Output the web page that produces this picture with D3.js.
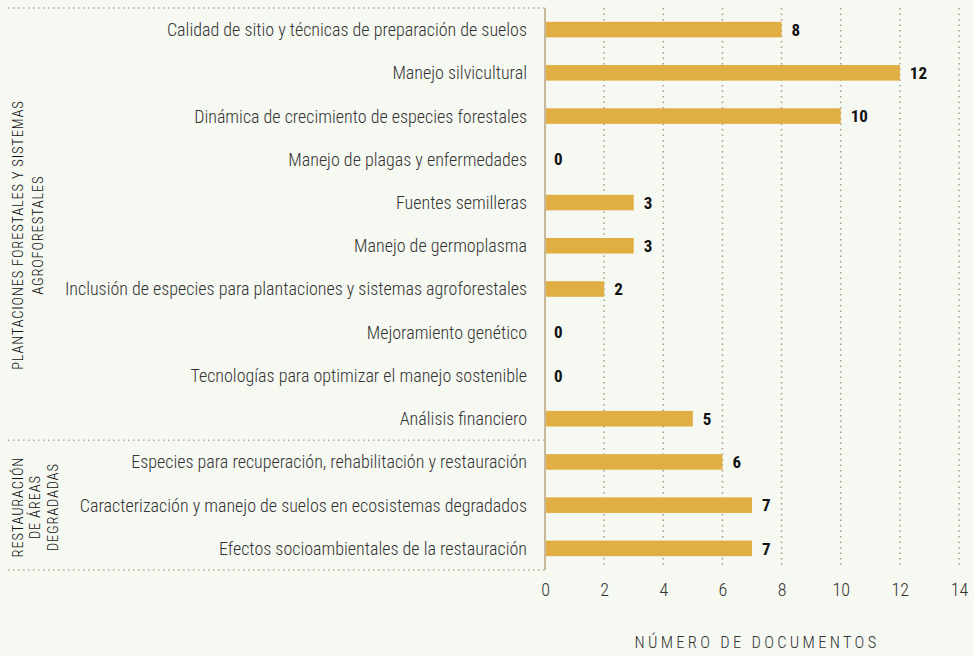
<!DOCTYPE html>
<html>
<head>
<meta charset="utf-8">
<script src="https://cdn.jsdelivr.net/npm/d3@7"></script>
<style>
  body { margin: 0; background: #f6f8f2; }
  svg text { font-family: "Roboto Condensed", "Liberation Sans Narrow", "Roboto", sans-serif; }
</style>
</head>
<body>
<div id="chart"></div>
<script>
// categories, top to bottom
var categories = [
  "Calidad de sitio y técnicas de preparación de suelos",
  "Manejo silvicultural",
  "Dinámica de crecimiento de especies forestales",
  "Manejo de plagas y enfermedades",
  "Fuentes semilleras",
  "Manejo de germoplasma",
  "Inclusión de especies para plantaciones y sistemas agroforestales",
  "Mejoramiento genético",
  "Tecnologías para optimizar el manejo sostenible",
  "Análisis financiero",
  "Especies para recuperación, rehabilitación y restauración",
  "Caracterización y manejo de suelos en ecosistemas degradados",
  "Efectos socioambientales de la restauración"
];
var documentos = [8, 12, 10, 0, 3, 3, 2, 0, 0, 5, 6, 7, 7];
var groupLines = [
  ["PLANTACIONES FORESTALES Y SISTEMAS", "AGROFORESTALES"],
  ["RESTAURACIÓN", "DE ÁREAS", "DEGRADADAS"]
];
var groupRange = [[0, 9], [10, 12]];
var xTicks = [0, 2, 4, 6, 8, 10, 12, 14];
var xTitle = "NÚMERO DE DOCUMENTOS";

var width = 974, height = 656;
var margin = {top: 8, right: 15, bottom: 86, left: 545};

var svg = d3.select("#chart").append("svg")
  .attr("width", width)
  .attr("height", height);

var x = d3.scaleLinear()
  .domain([0, 14])
  .range([margin.left, width - margin.right]);

var y = d3.scaleBand()
  .domain(categories)
  .range([margin.top, height - margin.bottom])
  .paddingInner(0.64)
  .paddingOuter(0.32);

// gridlines
svg.append("g")
  .selectAll("line")
  .data(xTicks.filter(function(d) { return d > 0; }))
  .enter().append("line")
  .attr("x1", function(d) { return x(d); })
  .attr("x2", function(d) { return x(d); })
  .attr("y1", margin.top)
  .attr("y2", height - margin.bottom - 4)
  .attr("stroke", "#a99c86")
  .attr("stroke-width", 1.5)
  .attr("stroke-dasharray", "1.5,4");

// group separators (horizontal dotted)
var sepY = [margin.top, (y(categories[9]) + y.bandwidth() + y(categories[10])) / 2, height - margin.bottom];
svg.append("g")
  .selectAll("line")
  .data(sepY)
  .enter().append("line")
  .attr("x1", 8)
  .attr("x2", margin.left)
  .attr("y1", function(d) { return d; })
  .attr("y2", function(d) { return d; })
  .attr("stroke", "#b5a78f")
  .attr("stroke-width", 1.5)
  .attr("stroke-dasharray", "1.5,3.5");

// bars
svg.append("g")
  .selectAll("rect")
  .data(documentos)
  .enter().append("rect")
  .attr("x", x(0))
  .attr("y", function(d, i) { return y(categories[i]); })
  .attr("width", function(d) { return x(d) - x(0); })
  .attr("height", y.bandwidth())
  .attr("fill", "#e0ae42");

// value labels
svg.append("g")
  .selectAll("text")
  .data(documentos)
  .enter().append("text")
  .attr("x", function(d) { return x(d) + (d === 0 ? 9 : 10); })
  .attr("y", function(d, i) { return y(categories[i]) + y.bandwidth() / 2; })
  .attr("dy", "0.36em")
  .attr("font-size", 17)
  .attr("font-weight", "bold")
  .attr("fill", "#111")
  .text(function(d) { return d; });

// category labels
svg.append("g")
  .selectAll("text")
  .data(categories)
  .enter().append("text")
  .attr("x", margin.left - 18)
  .attr("y", function(d) { return y(d) + y.bandwidth() / 2; })
  .attr("dy", "0.36em")
  .attr("text-anchor", "end")
  .attr("font-size", 18)
  .attr("font-weight", 300)
  .attr("fill", "#333")
  .text(function(d) { return d; });

// axis line
svg.append("line")
  .attr("x1", x(0)).attr("x2", x(0))
  .attr("y1", margin.top)
  .attr("y2", height - margin.bottom)
  .attr("stroke", "#c9b99c")
  .attr("stroke-width", 2);

// x axis
var xAxis = d3.axisBottom(x)
  .tickValues(xTicks)
  .tickSize(0)
  .tickPadding(13);

var gx = svg.append("g")
  .attr("transform", "translate(0," + (height - margin.bottom) + ")")
  .call(xAxis);
gx.select(".domain").remove();
gx.selectAll("text")
  .attr("font-size", 18)
  .attr("font-weight", 300)
  .attr("fill", "#333")
  .style("font-family", null);

svg.append("text")
  .attr("x", (x(0) + x(14)) / 2 + 5)
  .attr("y", 648)
  .attr("text-anchor", "middle")
  .attr("font-size", 16.5)
  .attr("font-weight", 300)
  .attr("letter-spacing", 3.3)
  .attr("fill", "#333")
  .text(xTitle);

// group labels (rotated)
groupLines.forEach(function(lines, gi) {
  var r = groupRange[gi];
  var n = lines.length;
  var cy = (y(categories[r[0]]) + y(categories[r[1]]) + y.bandwidth()) / 2 + (n === 2 ? 11 : 2);
  var step = n === 2 ? 20 : 17.5;
  var t = svg.append("text")
    .attr("transform", "translate(" + (n === 2 ? 27.5 : 35) + "," + cy + ") rotate(-90)")
    .attr("text-anchor", "middle")
    .attr("font-size", 14.5)
    .attr("font-weight", 300)
    .attr("letter-spacing", 0.8)
    .attr("fill", "#111");
  lines.forEach(function(l, i) {
    t.append("tspan")
      .attr("x", 0)
      .attr("y", (i - (n - 1) / 2) * step)
      .attr("dy", "0.36em")
      .text(l);
  });
});
</script>
</body>
</html>
